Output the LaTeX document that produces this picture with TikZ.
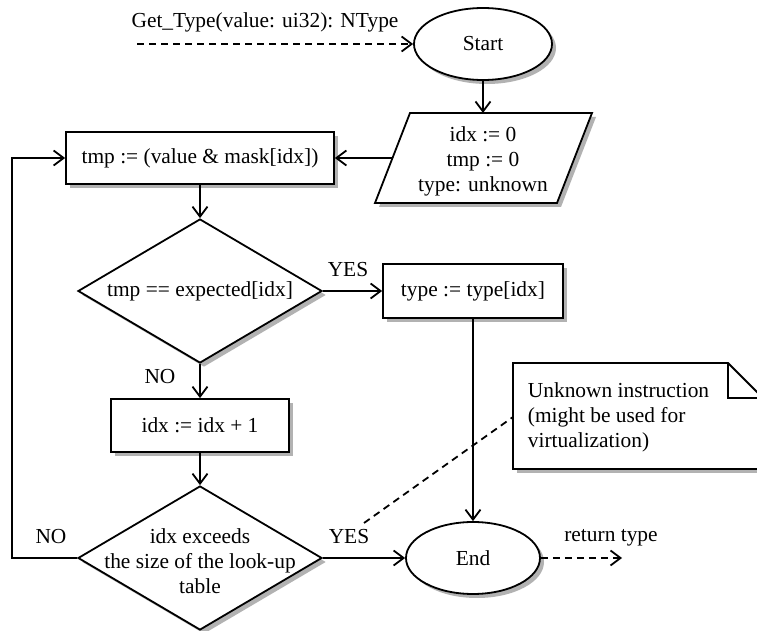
\documentclass[tikz,border=0pt]{standalone}
\usepackage{fontspec}
\setmainfont{Liberation Serif}
\usetikzlibrary{shapes.geometric,arrows.meta,shadows}
\begin{document}
\begin{tikzpicture}[x=0.5pt,y=-0.5pt,
  font=\fontsize{10.7}{12.5}\selectfont,
  line width=0.9pt,
  shad/.style={drop shadow={shadow xshift=2pt,shadow yshift=-2pt,fill=black!30,opacity=1}},
  procbox/.style={draw,rectangle,fill=white,shad,inner sep=0pt},
  termin/.style={draw,ellipse,fill=white,shad,inner sep=0pt,minimum width=69pt,minimum height=36pt},
  decision/.style={draw,diamond,fill=white,shad,inner sep=0pt,minimum width=122pt,minimum height=72pt},
  flow/.style={-{Straight Barb[length=5pt,width=7.5pt]}},
  dflow/.style={flow,dash pattern=on 3.5pt off 2.5pt},
  dline/.style={dash pattern=on 3.5pt off 2.5pt},
  lbl/.style={inner sep=0pt}
]
\fill[white] (0,0) rectangle (757,631);
\clip (0,0) rectangle (757,631);

% start
\node[termin] (start) at (483,44) {Start};
\node[lbl] (gtlabel) at (265,22) {Get\_Type(value: ui32): NType};
\coordinate (gtin) at (137,44);

% init parallelogram
\fill[black!30] (414,117) -- (596,117) -- (561,207) -- (379,207) -- cycle;
\draw[fill=white] (410,113) -- (592,113) -- (557,203) -- (375,203) -- cycle;
\coordinate (initN) at (483,113);
\coordinate (initW) at (392.5,158);
\node[lbl,align=center] (init) at (483,161) {idx := 0\\tmp := 0\\type: unknown};

% boxes and decisions
\node[procbox,minimum width=134pt,minimum height=26pt] (tmp) at (200,158) {tmp := (value \& mask[idx])};
\node[decision] (d1) at (200,291) {};
\node[lbl] (d1t) at (d1.center) {tmp == expected[idx]};
\node[procbox,minimum width=90pt,minimum height=27pt] (type) at (473,291) {type := type[idx]};
\node[procbox,minimum width=89pt,minimum height=26.5pt] (idx) at (200,425.5) {idx := idx + 1};
\node[decision] (d2) at (200,558) {};
\node[lbl,align=center] (d2t) at (200,561) {idx exceeds\\the size of the look-up\\table};
\node[termin,minimum width=67pt] (end) at (473,558) {End};
\coordinate (ret) at (622,558);
\coordinate (loopc) at (12,558);

% note
\fill[black!30] (517,367) -- (732,367) -- (767,402) -- (767,473) -- (517,473) -- cycle;
\draw[fill=white] (513,363) -- (728,363) -- (763,398) -- (763,469) -- (513,469) -- cycle;
\draw (728,363) -- (728,398) -- (763,398);
\coordinate (noteW) at (513,417);
\node[lbl,align=left,anchor=west] (note) at (527,417) {Unknown instruction\\(might be used for\\virtualization)};
\coordinate (cm) at (364,523);

% labels
\node[lbl] (yes1) at (348,270) {YES};
\node[lbl] (no1) at (160,377) {NO};
\node[lbl] (no2) at (51,537) {NO};
\node[lbl] (yes2) at (349,537) {YES};
\node[lbl] (rett) at (611,538) {return type};

% connectors
\draw[dflow] (gtin) -- (start.west);
\draw[flow] (start.south) -- (initN);
\draw[flow] (initW) -- (tmp.east);
\draw[flow] (tmp.south) -- (d1.north);
\draw[flow] (d1.east) -- (type.west);
\draw[flow] (d1.south) -- (idx.north);
\draw[flow] (idx.south) -- (d2.north);
\draw[flow] (d2.west) -- (loopc) |- (tmp.west);
\draw[flow] (d2.east) -- (end.west);
\draw[flow] (type.south) -- (end.north);
\draw[dflow] (end.east) -- (ret);
\draw[dline] (cm) -- (noteW);
\end{tikzpicture}
\end{document}
